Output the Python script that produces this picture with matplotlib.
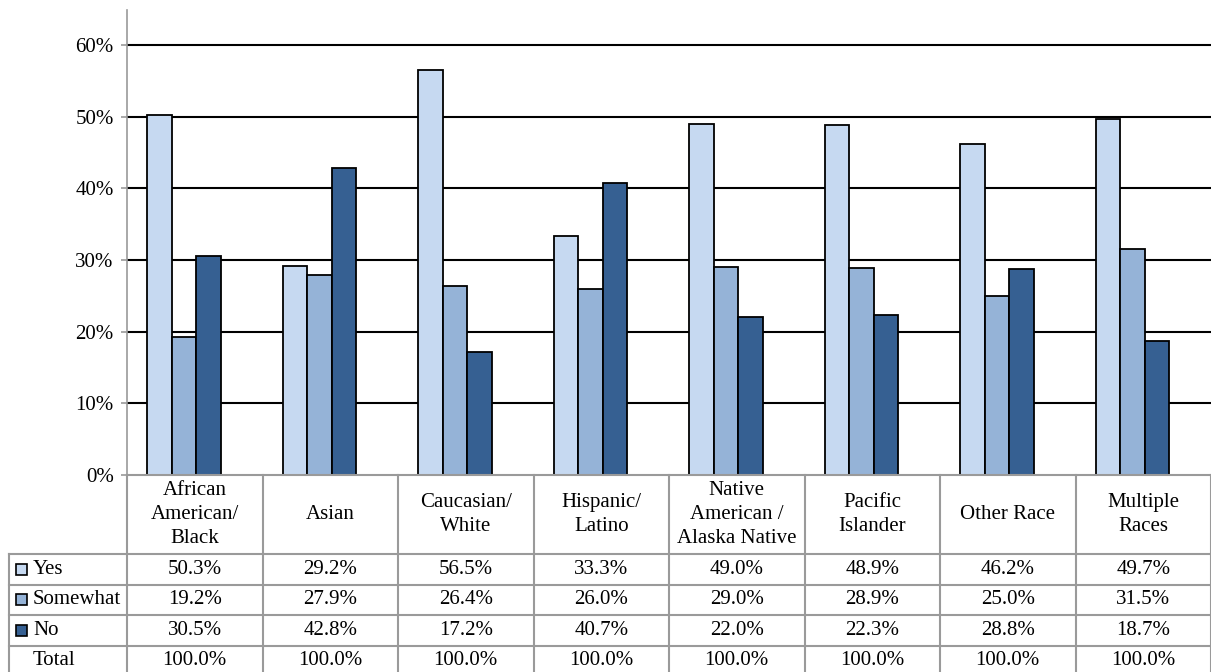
import numpy as np
import matplotlib
matplotlib.use("Agg")
import matplotlib.pyplot as plt
from matplotlib.patches import Rectangle
from matplotlib.ticker import PercentFormatter

plt.rcParams['font.family'] = ['Liberation Serif', 'DejaVu Serif']

categories = ["African\nAmerican/\nBlack", "Asian", "Caucasian/\nWhite",
              "Hispanic/\nLatino", "Native\nAmerican /\nAlaska Native",
              "Pacific\nIslander", "Other Race", "Multiple\nRaces"]
series = ["Yes", "Somewhat", "No"]
yes = [50.3, 29.2, 56.5, 33.3, 49.0, 48.9, 46.2, 49.7]
somewhat = [19.2, 27.9, 26.4, 26.0, 29.0, 28.9, 25.0, 31.5]
no = [30.5, 42.8, 17.2, 40.7, 22.0, 22.3, 28.8, 18.7]
total = [100.0, 100.0, 100.0, 100.0, 100.0, 100.0, 100.0, 100.0]
colors = ["#C6D9F1", "#95B3D7", "#366092"]

W, H = 1211, 672
FS = 15
GRAY = "#9a9a9a"

fig = plt.figure(figsize=(W / 100, H / 100), dpi=100)

# pixel layout of the plot area
left, right, top, base = 127, 1211, 10, 475
ax = fig.add_axes([left / W, 1 - base / H, (right - left) / W, (base - top) / H])

n = len(categories)
x = np.arange(n)
bw = 0.181
shift = -0.08
for k, vals in enumerate([yes, somewhat, no]):
    ax.bar(x + shift + (k - 1) * bw, np.array(vals) / 100, width=bw,
           color=colors[k], edgecolor="black", linewidth=1.3, zorder=3)

ax.set_xlim(-0.5, n - 0.5)
ax.set_ylim(0, 0.649)
ax.set_yticks(np.arange(0, 0.61, 0.1))
ax.yaxis.set_major_formatter(PercentFormatter(1.0, decimals=0))
for yv in np.arange(0.1, 0.61, 0.1):
    ax.axhline(yv, color="black", linewidth=1.5, zorder=1)
ax.set_xticks([])
for s in ["top", "right", "bottom"]:
    ax.spines[s].set_visible(False)
ax.spines["left"].set_color(GRAY)
ax.spines["left"].set_linewidth(1.2)
ax.tick_params(axis="y", colors=GRAY, length=4.5, width=1.2, labelsize=FS,
               labelcolor="black", pad=5)

# data table under the chart, drawn in pixel coordinates
tax = fig.add_axes([0, 0, 1, 1])
tax.set_xlim(0, W)
tax.set_ylim(H, 0)
tax.axis("off")

col_edges = np.linspace(left, right, n + 1)
row_edges = [base, 554, 584.5, 615, 645.5, 676]
table_left = 9

lw = 1.5
tax.plot([left, right], [base, base], color=GRAY, lw=lw)
for yv in row_edges[1:]:
    tax.plot([table_left, right], [yv, yv], color=GRAY, lw=lw)
tax.plot([table_left, table_left], [row_edges[1], H], color=GRAY, lw=lw)
for xv in col_edges:
    tax.plot([xv, xv], [base, H], color=GRAY, lw=lw)

centers = (col_edges[:-1] + col_edges[1:]) / 2
for cx, name in zip(centers, categories):
    tax.text(cx, (row_edges[0] + row_edges[1]) / 2, name, ha="center",
             va="center", fontsize=FS, linespacing=1.35)

rows = [yes, somewhat, no, total]
labels = series + ["Total"]
for r, (vals, lab) in enumerate(zip(rows, labels)):
    cy = (row_edges[r + 1] + row_edges[r + 2]) / 2
    if r < 3:
        tax.add_patch(Rectangle((15.5, cy - 5.5), 11, 11, facecolor=colors[r],
                                edgecolor="black", linewidth=1.2))
    tax.text(33, cy, lab, ha="left", va="center", fontsize=FS)
    for cx, v in zip(centers, vals):
        tax.text(cx, cy, f"{v:.1f}%", ha="center", va="center", fontsize=FS)

fig.savefig("out.png", dpi=100, facecolor="white")
